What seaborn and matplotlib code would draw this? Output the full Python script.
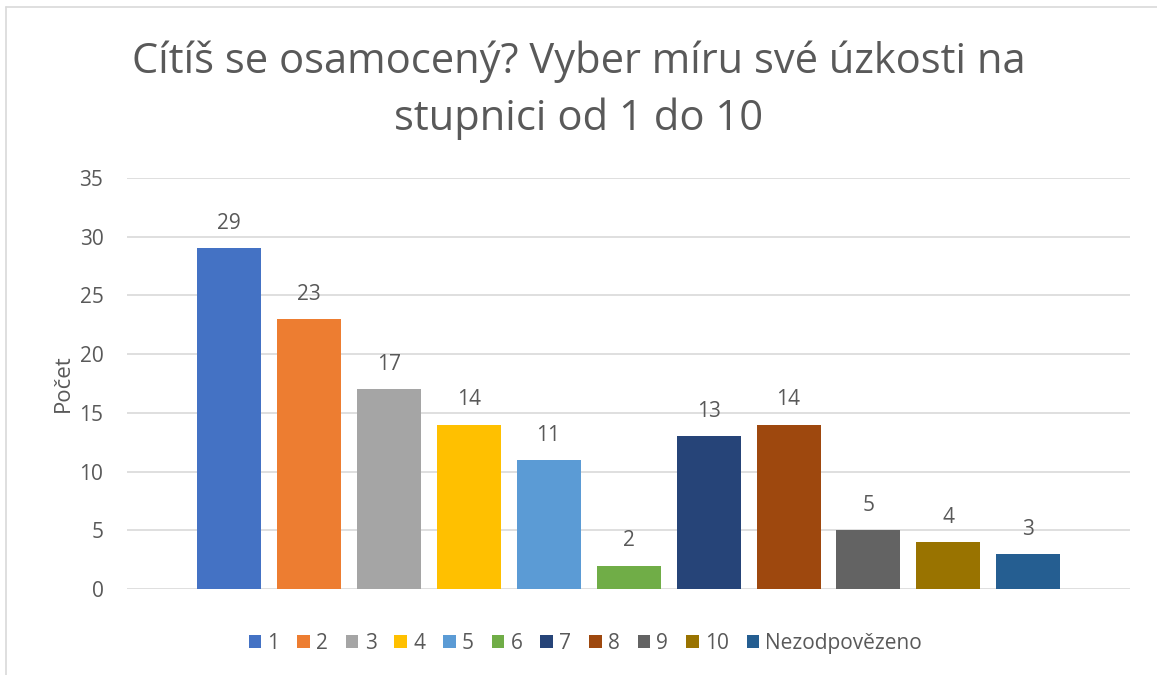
import pandas as pd
import matplotlib.pyplot as plt
import seaborn as sns
from matplotlib.lines import Line2D

# data
kategorie = ["1", "2", "3", "4", "5", "6", "7", "8", "9", "10", "Nezodpovězeno"]
pocty = [29, 23, 17, 14, 11, 2, 13, 14, 5, 4, 3]
barvy = ["#4472C4", "#ED7D31", "#A5A5A5", "#FFC000", "#5B9BD5", "#70AD47",
         "#264478", "#9E480E", "#636363", "#997300", "#255E91"]
nadpis = ["Cítíš se osamocený? Vyber míru své úzkosti na", "stupnici od 1 do 10"]

df = pd.DataFrame({"odpoved": kategorie, "pocet": pocty})

sns.set_theme(style="white")
plt.rcParams["font.family"] = ["Open Sans", "DejaVu Sans"]
text_col = "#595959"

fig = plt.figure(figsize=(11.57, 6.75), dpi=100)
ax = fig.add_axes([0.1098, 0.1274, 0.8669, 0.6089])

sns.barplot(data=df, x="odpoved", y="pocet", hue="odpoved", palette=barvy,
            width=0.8, dodge=False, saturation=1, legend=True, linewidth=0, ax=ax)

# popisky hodnot
for i, v in enumerate(pocty):
    ax.text(i, v + 2.1, str(v), ha="center", va="center", fontsize=15, color=text_col)

ax.set_ylim(0, 35)
ax.set_yticks(range(0, 36, 5))
ax.yaxis.grid(True, color="#D9D9D9", linewidth=1.2)
ax.set_axisbelow(True)
ax.set_xticks([])
ax.set_xlabel("")
ax.set_ylabel("Počet", fontsize=16, color=text_col, labelpad=4)
ax.tick_params(axis="y", labelsize=15, labelcolor=text_col, length=0, pad=17)
for s in ax.spines.values():
    s.set_visible(False)

# legenda dole
handles, labels = ax.get_legend_handles_labels()
ax.legend_.remove()
fig.legend(handles, labels, loc="center", bbox_to_anchor=(0.506, 0.047), ncol=11,
           frameon=False, fontsize=15, handlelength=0.6, handleheight=0.6,
           handletextpad=0.3, columnspacing=0.86, labelcolor=text_col)

# nadpis ve dvou řádcích
fig.text(0.5, 1 - 73 / 675, nadpis[0], ha="center", va="baseline", fontsize=30, color=text_col)
fig.text(0.5, 1 - 130 / 675, nadpis[1], ha="center", va="baseline", fontsize=30, color=text_col)

# okraj grafu (vidět jen vlevo a nahoře)
fig.add_artist(Line2D([6 / 1157, 6 / 1157], [0, 1 - 7 / 675], transform=fig.transFigure,
                      color="#D9D9D9", linewidth=1.2))
fig.add_artist(Line2D([6 / 1157, 1], [1 - 7 / 675, 1 - 7 / 675], transform=fig.transFigure,
                      color="#D9D9D9", linewidth=1.2))

ax.set_xlim(-1.27, 11.27)
fig.savefig("out.png", dpi=100)
